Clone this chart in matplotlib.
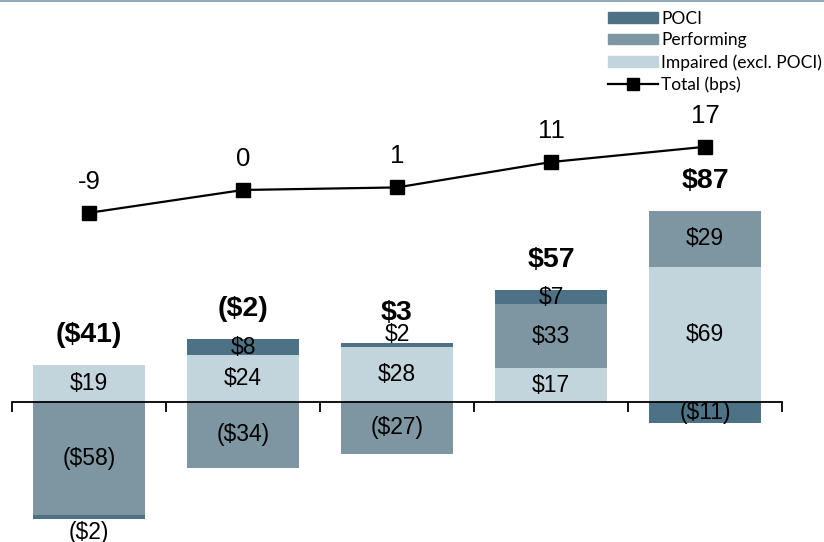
import matplotlib
matplotlib.use('Agg')
import matplotlib.pyplot as plt
import numpy as np
from matplotlib.patches import Patch
from matplotlib.lines import Line2D

plt.rcParams['font.family'] = ['Liberation Sans', 'DejaVu Sans']

# ---- data ----
periods = ['P1', 'P2', 'P3', 'P4', 'P5']
impaired = [19, 24, 28, 17, 69]
performing = [-58, -34, -27, 33, 29]
poci = [-2, 8, 2, 7, -11]
total_bps = [-9, 0, 1, 11, 17]

series = [('Impaired (excl. POCI)', impaired, '#c3d5dc'),
          ('Performing', performing, '#7e96a2'),
          ('POCI', poci, '#4e7285')]

fig = plt.figure(figsize=(8.24, 5.42), dpi=100)
ax = fig.add_axes([0, 0, 1, 1])
x = np.arange(len(periods))
width = 0.73
seg_fs = 16.5

pos_base = np.zeros(len(periods))
neg_base = np.zeros(len(periods))
for name, vals, color in series:
    vals = np.array(vals, dtype=float)
    bottoms = np.where(vals >= 0, pos_base, neg_base)
    ax.bar(x, vals, width, bottom=bottoms, color=color, edgecolor='none', zorder=2)
    for xi, v, b in zip(x, vals, bottoms):
        txt = f'${v:.0f}' if v >= 0 else f'(${-v:.0f})'
        if abs(v) <= 2:
            # tiny segments: label sits just outside the bar
            if v >= 0:
                ax.annotate(txt, (xi, b + v), xytext=(0, -3), textcoords='offset pixels',
                            ha='center', va='bottom', fontsize=seg_fs, zorder=4)
            else:
                ax.annotate(txt, (xi, b + v), xytext=(0, -2), textcoords='offset pixels',
                            ha='center', va='top', fontsize=seg_fs, zorder=4)
        else:
            ax.text(xi, b + v / 2, txt, ha='center', va='center', fontsize=seg_fs, zorder=4)
    pos_base = pos_base + np.where(vals >= 0, vals, 0)
    neg_base = neg_base + np.where(vals < 0, vals, 0)

totals = np.sum([impaired, performing, poci], axis=0)
for xi, t, top in zip(x, totals, pos_base):
    txt = f'${t:.0f}' if t >= 0 else f'(${-t:.0f})'
    ax.annotate(txt, (xi, top), xytext=(0, 30), textcoords='offset pixels',
                ha='center', va='center', fontsize=20.5, fontweight='bold', zorder=4)

# zero axis with category boundary ticks
ax.set_xlim(-0.578, 4.773)
ax.set_ylim(-72, 206)
for s in ['top', 'left', 'right']:
    ax.spines[s].set_visible(False)
ax.spines['bottom'].set_position(('data', 0))
ax.spines['bottom'].set_bounds(-0.5, 4.5)
ax.spines['bottom'].set_linewidth(1.3)
ax.spines['bottom'].set_zorder(3)
ax.set_xticks(np.arange(-0.5, 5, 1))
ax.set_xticklabels([])
ax.tick_params(axis='x', direction='out', length=7, width=1.3)
ax.set_yticks([])
ax.patch.set_alpha(0)

# total bps line on a hidden secondary scale
ax2 = ax.twinx()
ax2.set_ylim(-138.6, 74.8)
ax2.axis('off')
ax2.plot(x, total_bps, color='black', lw=1.6, marker='s', markersize=10, zorder=5)
for xi, v in zip(x, total_bps):
    ax2.annotate(f'{v}', (xi, v), xytext=(0, 31), textcoords='offset pixels',
                 ha='center', va='center', fontsize=18.5)

# thin top rule
fig.add_artist(Line2D([0, 1], [0.998, 0.998], color='#8fa9b8', lw=1.5))

handles = [Patch(color='#4e7285', label='POCI'),
           Patch(color='#7e96a2', label='Performing'),
           Patch(color='#c3d5dc', label='Impaired (excl. POCI)'),
           Line2D([], [], color='black', lw=1.6, marker='s', markersize=9, label='Total (bps)')]
fig.legend(handles=handles, loc='upper right', bbox_to_anchor=(0.998, 0.98), frameon=False,
           prop={'family': 'Lato', 'size': 12.5}, handlelength=2.9, handleheight=0.55,
           handletextpad=0.2, labelspacing=0.32, borderpad=0, borderaxespad=0)

fig.savefig('out.png', dpi=100)
